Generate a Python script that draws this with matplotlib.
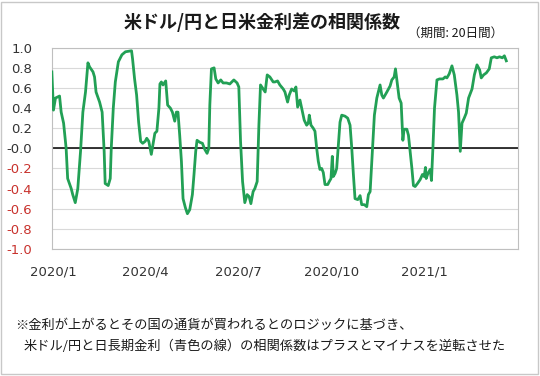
import numpy as np
import pandas as pd
import matplotlib
matplotlib.use("Agg")
import matplotlib.pyplot as plt
import matplotlib.dates as mdates
from matplotlib.patches import Rectangle

plt.rcParams['font.family'] = ['Noto Sans CJK JP', 'DejaVu Sans']

# days since 2020-01-01 and correlation values
days = [-1.6, 0, 2, 6, 7.6, 10, 12.5, 14, 17.5, 19, 21.5, 24, 26.7, 29, 31.6, 34, 35.6, 39, 40.5, 42,
        45.5, 48, 50, 51, 54, 56, 57, 59, 61, 64, 67.5, 71, 77, 78, 80, 82, 84, 86, 88, 90.5,
        92, 94, 96.5, 98, 100, 102, 104, 105, 106.4, 108, 110.7, 112.6, 115.3, 117.3, 119.6, 121.2, 122.8, 124.5,
        126.2, 127.8, 130.1, 132.1, 134.4, 137, 138.6, 140.3, 141.6, 144.3, 146.9, 149.2, 151.5, 153.2, 154.2, 155.8,
        158.4, 160.1, 162.4, 165, 167.3, 170.7, 173.9, 177.9, 181.1, 182.8, 184.5, 186.5, 188.7, 191, 193, 194.7,
        196.9, 198.6, 200.9, 202.6, 204.2, 206.8, 208.8, 210.8, 213.4, 216.7, 218.4, 221, 223.3, 226.6, 228.3, 230.9,
        232.5, 234.9, 237.5, 239.1, 240.8, 243.1, 244.8, 247.3, 249.7, 251.3, 252.3, 254, 256.2, 257.9, 259.6, 261.2,
        262.8, 264.5, 266.1, 267.8, 270.5, 272, 273.7, 275, 276, 277.7, 279.3, 281, 282.6, 284.3, 287.5, 290.2,
        292.5, 294.2, 295.8, 297.4, 300.1, 302.4, 304, 306.6, 309, 310.6, 312.3, 314.5, 316.5, 318.9, 322.1, 323.8,
        325.4, 328.8, 332, 333.7, 336, 337.3, 339.2, 340.9, 342.9, 344.6, 345.8, 348.5, 350.1, 351.8, 353.5, 355,
        356.7, 359, 361.7, 363.9, 365.6, 366.9, 367.6, 369.3, 371.5, 372.8, 374.2, 375.8, 378.2, 380.7, 384.1, 386.4,
        388, 390.3, 393, 395.3, 397.9, 399.5, 401.2, 402.9, 405.1, 407.1, 409.4, 412.8, 415.1, 417.7, 420.3, 421.9,
        424.2, 426.9, 429.8, 431.8, 434.8, 437.4, 439.9, 442.7, 444.7, 446.6]
corr = [0.76, 0.38, 0.50, 0.52, 0.36, 0.25, 0.0, -0.30, -0.40, -0.46, -0.54, -0.40, -0.03, 0.36, 0.56, 0.85, 0.81, 0.76, 0.71, 0.56,
        0.46, 0.36, -0.03, -0.35, -0.37, -0.30, 0.0, 0.40, 0.66, 0.86, 0.93, 0.96, 0.97, 0.89, 0.69, 0.53, 0.26, 0.07, 0.05, 0.07,
        0.10, 0.07, -0.06, 0.03, 0.15, 0.17, 0.40, 0.64, 0.66, 0.63, 0.67, 0.43, 0.40, 0.36, 0.27, 0.36, 0.36, 0.13,
        -0.13, -0.50, -0.59, -0.65, -0.61, -0.46, -0.26, -0.03, 0.08, 0.06, 0.05, -0.01, -0.05, 0.0, 0.43, 0.79,
        0.80, 0.69, 0.65, 0.68, 0.65, 0.65, 0.64, 0.68, 0.65, 0.61, 0.07, -0.33, -0.54, -0.46, -0.48, -0.55,
        -0.43, -0.40, -0.33, 0.23, 0.63, 0.59, 0.56, 0.73, 0.71, 0.66, 0.66, 0.67, 0.63, 0.59, 0.56, 0.46,
        0.53, 0.59, 0.57, 0.61, 0.41, 0.48, 0.40, 0.28, 0.23, 0.25, 0.33, 0.23, 0.20, 0.17, 0.0, -0.13,
        -0.21, -0.20, -0.24, -0.36, -0.36, -0.33, -0.30, -0.08, -0.28, -0.25, -0.20, 0.03, 0.26, 0.33, 0.32, 0.30,
        0.23, 0.0, -0.26, -0.50, -0.51, -0.47, -0.56, -0.56, -0.58, -0.46, -0.43, -0.03, 0.33, 0.50, 0.63, 0.53,
        0.50, 0.56, 0.62, 0.68, 0.71, 0.79, 0.64, 0.50, 0.45, 0.08, 0.19, 0.19, 0.13, -0.03, -0.20, -0.37,
        -0.38, -0.35, -0.31, -0.26, -0.28, -0.19, -0.30, -0.25, -0.21, -0.32, 0.0, 0.40, 0.68, 0.69, 0.69, 0.71,
        0.70, 0.74, 0.82, 0.73, 0.53, 0.36, -0.03, 0.25, 0.30, 0.35, 0.50, 0.59, 0.73, 0.83, 0.78, 0.70,
        0.73, 0.75, 0.79, 0.90, 0.91, 0.90, 0.91, 0.90, 0.92, 0.87]

xticks = ['2020-01-01', '2020-04-01', '2020-07-01', '2020-10-01', '2021-01-01']
yticks = np.round(np.arange(-1.0, 1.01, 0.2), 1)

base = pd.Timestamp('2020-01-01')
dates = base + pd.to_timedelta(days, unit='D')

fig = plt.figure(figsize=(5.4, 3.76), dpi=100)
ax = fig.add_axes([0.096, 0.338, 0.863, 0.535])

ax.plot(dates, corr, color='#22a055', lw=2.0, zorder=3, solid_joinstyle='round')
ax.axhline(0, color='black', lw=1.1, zorder=2)

ax.set_ylim(-1.0, 1.0)
ax.set_xlim(dates[0], pd.Timestamp('2021-04-03'))
ax.set_yticks(yticks)
ax.set_yticklabels([f'{v:.1f}' for v in yticks], fontsize=9.5, family=['DejaVu Sans'])
for lab, v in zip(ax.get_yticklabels(), yticks):
    lab.set_color('#c8322d' if v < 0 else '#333333')
ax.set_xticks(pd.to_datetime(xticks))
ax.xaxis.set_major_formatter(mdates.DateFormatter('%Y/%-m'))
for lab in ax.get_xticklabels():
    lab.set_fontsize(9.5)
    lab.set_color('#333333')
    lab.set_family(['DejaVu Sans'])
ax.tick_params(axis='both', length=0)
ax.tick_params(axis='y', pad=14)
ax.tick_params(axis='x', pad=12)
ax.grid(axis='y', color='#d9d9d9', lw=0.8)
ax.set_axisbelow(True)
for s in ax.spines.values():
    s.set_color('#bfbfbf')
    s.set_linewidth(0.8)

fig.text(0.485, 0.942, '米ドル/円と日米金利差の相関係数', fontsize=13, weight='bold',
         ha='center', va='center', color='#1a1a1a')
fig.text(0.756, 0.912, '（期間: 20日間）', fontsize=9, ha='left', va='center', color='#1a1a1a')

fig.text(0.028, 0.135, '※金利が上がるとその国の通貨が買われるとのロジックに基づき、',
         fontsize=9.5, ha='left', va='center', color='#1a1a1a')
fig.text(0.043, 0.078, '米ドル/円と日長期金利（青色の線）の相関係数はプラスとマイナスを逆転させた',
         fontsize=9.5, ha='left', va='center', color='#1a1a1a')

fig.patches.append(Rectangle((0.002, 0.004), 0.995, 0.992, transform=fig.transFigure,
                             fill=False, edgecolor='#c8c8c8', lw=1.0))

fig.savefig('out.png', dpi=100)
